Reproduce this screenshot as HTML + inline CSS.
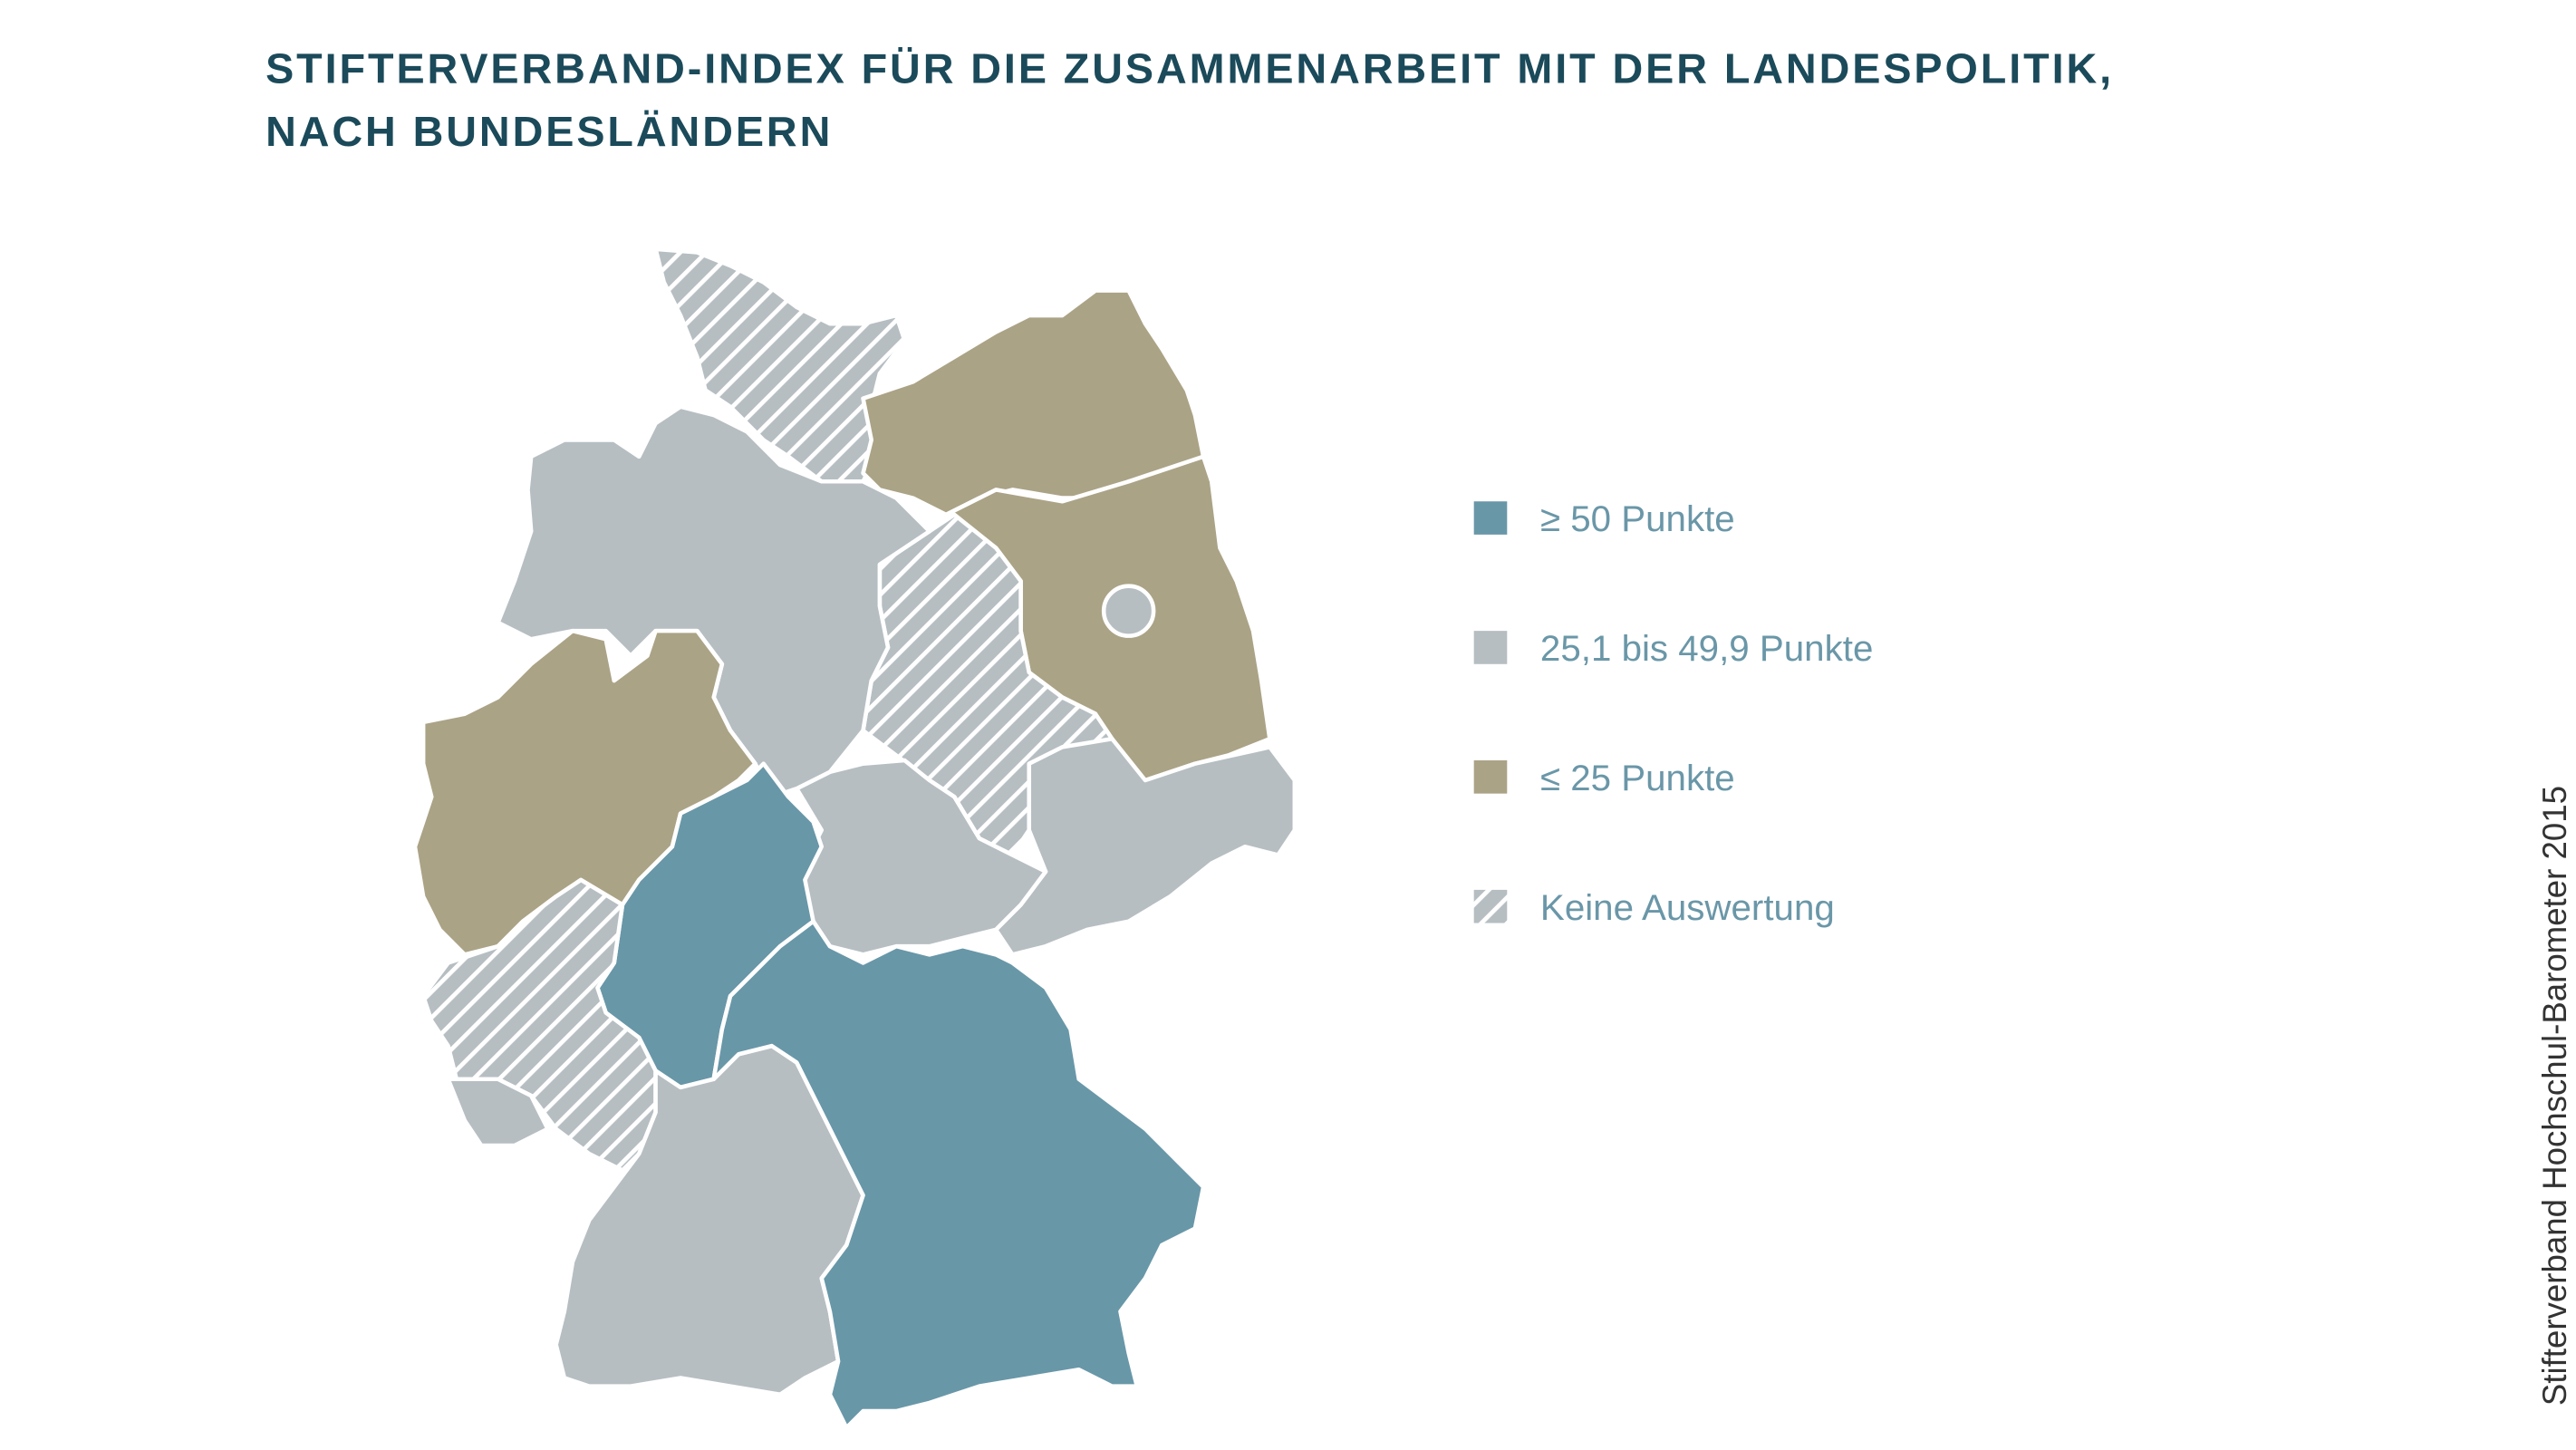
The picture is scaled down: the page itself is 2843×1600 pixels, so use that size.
<!DOCTYPE html>
<html><head><meta charset="utf-8"><style>
html,body{margin:0;padding:0;background:#fff;}
svg{display:block;}
</style></head><body>
<svg width="2843" height="1600" viewBox="0 0 1552 873.4" xmlns="http://www.w3.org/2000/svg">
<defs>
<pattern id="h" patternUnits="userSpaceOnUse" width="11" height="11" patternTransform="rotate(45)">
<rect width="11" height="11" fill="#b6bec2"/>
<rect x="0" y="0" width="2.6" height="11" fill="#ffffff"/>
</pattern>
</defs>
<g font-family="Liberation Sans, sans-serif">
<text x="160" y="50" font-size="25.5" font-weight="bold" fill="#1b4a5a" letter-spacing="1.6">STIFTERVERBAND-INDEX FÜR DIE ZUSAMMENARBEIT MIT DER LANDESPOLITIK,</text>
<text x="160" y="88" font-size="25.5" font-weight="bold" fill="#1b4a5a" letter-spacing="1.6">NACH BUNDESLÄNDERN</text>
</g>
<g stroke="#fff" stroke-width="2.5" stroke-linejoin="round">
<polygon fill="url(#h)" points="395,150 420,152 440,160 460,170 480,185 500,195 520,195 540,190 545,205 530,225 525,245 530,270 520,290 495,290 475,275 460,265 440,245 425,235 420,215 410,190 400,170"/>
<polygon fill="#aba386" points="520,240 550,230 575,215 600,200 620,190 640,190 660,175 680,175 690,195 700,210 715,235 720,250 725,275 700,285 680,290 660,300 640,300 610,295 590,300 570,310 550,300 530,295 520,285 525,265"/>
<polygon fill="#aba386" points="570,310 600,295 640,302 680,290 725,275 730,290 735,330 745,350 755,380 760,410 765,445 740,455 720,460 690,470 670,455 660,430 640,420 620,405 615,380 615,350 600,330"/>
<circle cx="680" cy="368" r="15" fill="#b6bec2"/>
<polygon fill="url(#h)" points="530,340 560,320 575,310 600,330 615,350 615,380 620,405 640,420 660,430 670,445 640,455 625,470 620,500 610,515 590,505 575,480 560,470 540,455 520,440 525,410 535,390 530,365"/>
<polygon fill="#b6bec2" points="620,460 640,450 670,445 690,470 720,460 765,450 780,470 780,500 770,515 750,510 730,520 705,540 680,555 655,560 630,570 610,575 600,560 615,545 630,525 620,500"/>
<polygon fill="#b6bec2" points="480,475 500,465 520,460 545,458 560,470 575,480 590,505 610,515 630,525 615,545 600,560 580,565 560,570 540,570 520,575 500,570 490,555 480,540 485,520 495,500"/>
<polygon fill="#b6bec2" points="320,275 340,265 370,265 385,275 395,255 410,245 430,250 450,260 470,280 495,290 520,290 540,300 560,320 530,340 530,365 535,390 525,410 520,440 500,465 480,475 465,480 455,460 440,440 430,420 435,400 420,380 395,380 380,395 365,380 345,380 320,385 300,375 310,350 320,320 318,295"/>
<polygon fill="#aba386" points="255,435 280,430 300,420 320,400 345,380 365,385 370,410 390,395 395,380 420,380 435,400 430,420 440,440 455,460 445,470 430,480 410,490 405,510 385,530 375,545 350,530 335,540 315,555 300,570 280,575 265,560 255,540 250,510 260,480 255,460"/>
<polygon fill="#6897a8" points="410,490 430,480 450,470 460,460 475,480 490,495 495,510 485,530 490,555 470,570 455,585 440,600 435,620 430,650 410,655 395,645 385,625 365,610 360,595 370,580 375,545 385,530 405,510"/>
<polygon fill="url(#h)" points="255,600 270,580 300,570 315,555 335,540 350,530 375,545 370,580 360,595 365,610 385,625 395,645 395,670 385,695 375,705 355,695 335,680 320,660 300,650 275,650 270,630 260,615"/>
<polygon fill="#b6bec2" points="270,650 300,650 320,660 330,680 310,690 290,690 280,675"/>
<polygon fill="#b6bec2" points="395,645 410,655 430,650 445,635 465,630 480,640 490,660 500,680 510,700 520,720 510,750 495,770 500,790 505,820 485,830 470,840 440,835 410,830 380,835 355,835 340,830 335,810 340,790 345,760 355,735 370,715 385,695 395,670"/>
<polygon fill="#6897a8" points="455,585 470,570 490,555 500,570 520,580 540,570 560,575 580,570 600,575 610,580 630,595 645,620 650,650 670,665 690,680 710,700 725,715 720,740 700,750 690,770 675,790 680,815 685,835 670,835 650,825 620,830 590,835 560,845 540,850 520,850 510,860 500,840 505,820 500,790 495,770 510,750 520,720 510,700 500,680 490,660 480,640 465,630 445,635 430,650 435,620 440,600"/>
</g>
<g font-family="Liberation Sans, sans-serif" font-size="22" fill="#6a97a8">
<rect x="888" y="302" width="20" height="20" fill="#6897a8"/>
<text x="928" y="320">≥ 50 Punkte</text>
<rect x="888" y="380" width="20" height="20" fill="#b6bec2"/>
<text x="928" y="398">25,1 bis 49,9 Punkte</text>
<rect x="888" y="458" width="20" height="20" fill="#aba386"/>
<text x="928" y="476">≤ 25 Punkte</text>
<rect x="888" y="536" width="20" height="20" fill="url(#h)"/>
<text x="928" y="554">Keine Auswertung</text>
</g>
<text transform="translate(1546,660) rotate(-90)" text-anchor="middle" font-family="Liberation Sans, sans-serif" font-size="20" fill="#333">Stifterverband Hochschul-Barometer 2015</text>
</svg>
</body></html>
